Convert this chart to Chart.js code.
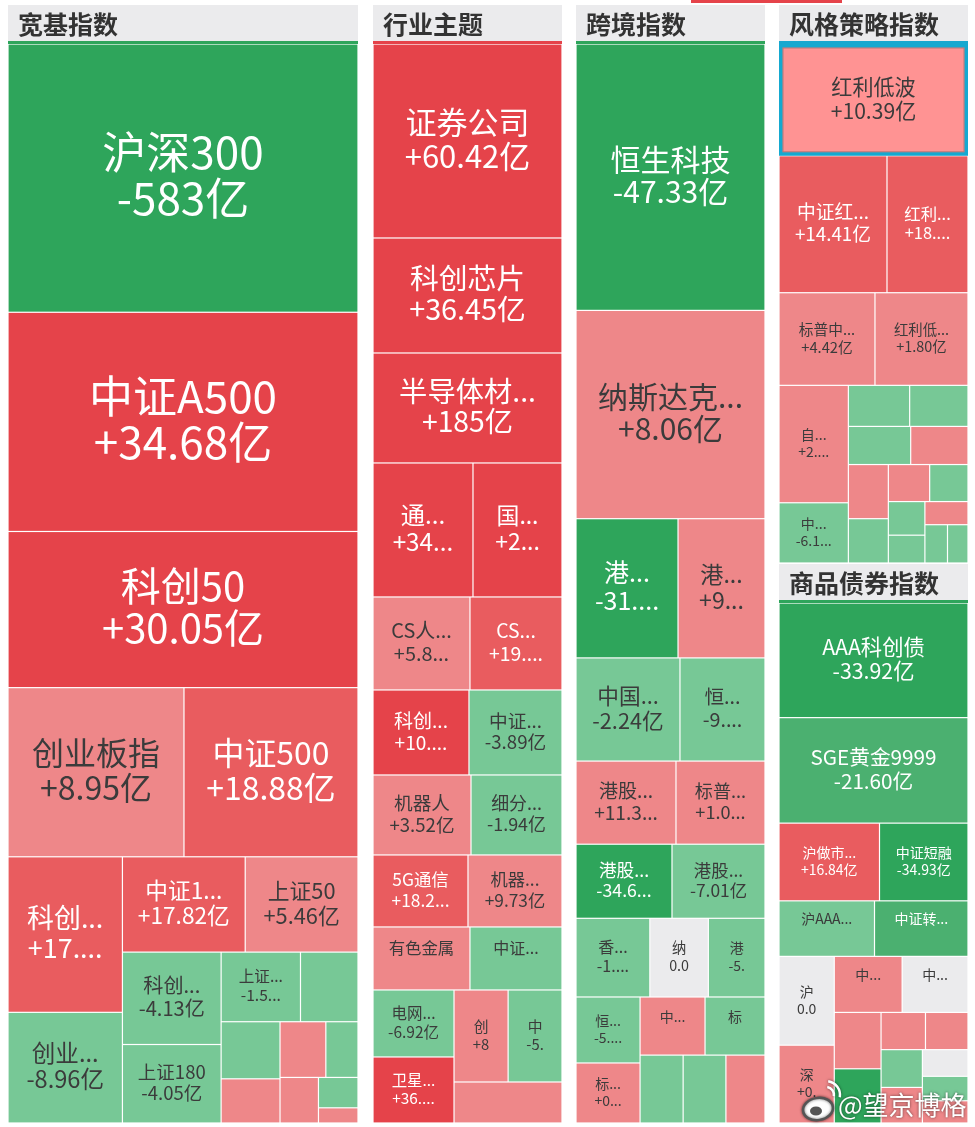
<!DOCTYPE html>
<html>
<head>
<meta charset="utf-8">
<script src="https://cdn.jsdelivr.net/npm/chart.js@4.4.1/dist/chart.umd.min.js"></script>
<style>
  html, body { margin: 0; padding: 0; background: #fff; }
  canvas { display: block; }
</style>
</head>
<body>
<canvas id="flowMap" width="975" height="1127"></canvas>
<script>
// ETF 周度资金净流入 (亿元)，面积 = 规模，颜色 = 净流入占规模比例(%)

const groupTitles = ['宽基指数', '行业主题', '跨境指数', '风格策略指数', '商品债券指数'];

// 宽基指数
const broadNames = ['沪深300', '中证A500', '科创50', '创业板指', '中证500', '科创综指', '创业板50', '中证1000', '上证50', '科创100',
  '上证180', '上证指数', '深证100', '中证800', '中证2000', '科创创业50', '双创50', '深证50', '中证100', '上证科创板200'];
const broadFlows = [-583, 34.68, 30.05, 8.95, 18.88, 17.36, -8.96, 17.82, 5.46, -4.13,
  -4.05, -1.52, -2.36, -0.84, 1.26, 0.95, -0.41, 0.38, -0.27, 0.12];
const broadAum = [9380, 7665, 5460, 2974, 2941, 1778, 1265, 1169, 1074, 911,
  774, 552, 400, 336, 260, 255, 179, 175, 120, 60];
const broadPct = [-5.8, 4.6, 5.2, 1.2, 2.9, 3.1, -1.1, 2.6, 0.9, -0.8,
  -1.0, -0.6, -0.9, -0.5, 0.7, 0.4, -0.3, 0.5, -0.2, 0.3];

// 行业主题
const sectorNames = ['证券公司', '科创芯片', '半导体材料设备', '通信设备', '国防军工', 'CS人工智能', 'CS创新药', '科创半导体', '中证医疗', '机器人',
  '细分化工', '5G通信', '机器人产业', '有色金属', '中证全指证券公司', '电网设备', '卫星通信', '创新药', '中证传媒', '煤炭'];
const sectorFlows = [60.42, 36.45, 185, 34.27, 27.64, 5.83, 19.45, 10.72, -3.89, 3.52,
  -1.94, 18.21, 9.73, 2.85, -2.14, -6.92, 36.18, 8.04, -5.31, 1.47];
const sectorAum = [3667, 2174, 2079, 1340, 1193, 902, 856, 816, 791, 784,
  728, 684, 677, 611, 580, 543, 535, 498, 496, 443];
const sectorPct = [5.5, 4.8, 9.0, 6.0, 5.1, 1.3, 3.3, 5.4, -0.9, 0.8,
  -0.6, 3.6, 1.8, 0.7, -0.5, -1.5, 8.2, 1.2, -1.2, 0.6];

// 跨境指数
const crossNames = ['恒生科技', '纳斯达克100指数', '港股通互联网', '港股通医药', '中国互联网', '恒生医疗', '港股通创新药', '标普500', '港股通科技', '港股通消费',
  '香港证券', '纳指科技', '港股通央企红利', '恒生互联网', '标普消费', '中韩半导体', '标普生物科技', '日经225', '德国DAX', '沙特'];
const crossFlows = [-47.33, 8.06, -31.26, 9.47, -2.24, -9.18, 11.35, 1.06, -34.62, -7.01,
  -1.38, 0, -5.27, -5.66, 0.86, 1.12, -0.73, -0.42, -0.35, 0.51];
const crossAum = [5027, 3931, 1418, 1209, 1071, 876, 830, 739, 710, 688,
  580, 460, 445, 422, 384, 377, 348, 292, 290, 265];
const crossPct = [-4.9, 0.9, -5.2, 1.6, -0.5, -1.9, 1.7, 0.3, -6.1, -1.4,
  -0.4, 0, -1.3, -1.5, 0.5, 0.6, -0.3, -0.2, -0.2, 0.3];

// 风格策略指数
const styleNames = ['红利低波', '中证红利低波', '红利质量', '标普中国A股红利', '红利低波100', '自由现金流', '中证现金流', '红利国企', '央企红利', '国企红利',
  '上证红利', '深证红利', '价值100', '沪深300价值', '创成长', '300成长', '800价值', '质量因子', '低波动', '基本面50'];
const styleFlows = [10.39, 14.41, 18.27, 4.42, 1.80, 2.63, -6.12, -0.86, -0.52, -1.13,
  0.74, 0.61, -0.33, 0.28, -0.19, -0.25, -0.11, 0.15, -0.08, -0.06];
const styleAum = [2098, 1469, 1102, 883, 856, 809, 415, 250, 238, 236,
  217, 215, 176, 152, 141, 122, 101, 99, 86, 78];
const stylePct = [1.6, 2.6, 3.2, 0.9, 0.4, 0.6, -1.7, -0.3, -0.2, -0.4,
  0.3, 0.2, -0.1, 0.1, -0.1, -0.1, -0.05, 0.05, -0.03, -0.02];

// 商品债券指数
const bondNames = ['AAA科创债', 'SGE黄金9999', '沪做市公司债', '中证短融', '沪AAA城投债', '中证转债及可交换债', '沪公司债', '深城投债', '中债国开', '中证同业存单',
  '中短融', '国债ETF', '十年国债', '政金债', '地方债', '城投债', '公司债', '30年国债', '短融'];
const bondFlows = [-33.92, -21.60, 16.84, -34.93, -3.26, -12.47, 0, 0.46, 1.25, 0,
  0.88, -8.9, 0.53, 0.41, -0.35, 0.3, 0, -0.28, 0.2];
const bondAum = [2136, 1966, 770, 678, 523, 512, 484, 424, 375, 364,
  260, 250, 163, 156, 154, 145, 120, 110, 100];
const bondPct = [-4.5, -2.8, 3.0, -6.3, -0.9, -2.5, 0, 0.2, 0.6, 0,
  0.5, -4.2, 0.3, 0.3, -0.2, 0.2, 0, -0.1, 0.1];

const selectedName = '红利低波';

// ---- layout / style ----
const FONT = "'Noto Sans CJK SC', 'Microsoft YaHei', sans-serif";
const COLS = [[8, 350], [373, 189], [576, 189], [779, 189]];
const HEAD = 36, LINE = 3;
const SQUARE_RATIO = 0.86;

const panels = [
  { col: 0, top: 5, bottom: 1123, line: '#2ea55b', scale: 1, cap: 44, names: broadNames, flows: broadFlows, aum: broadAum, pct: broadPct },
  { col: 1, top: 5, bottom: 1123, line: '#e5434a', scale: 1, cap: 31, names: sectorNames, flows: sectorFlows, aum: sectorAum, pct: sectorPct },
  { col: 2, top: 5, bottom: 1123, line: '#2ea55b', scale: 1, cap: 30, names: crossNames, flows: crossFlows, aum: crossAum, pct: crossPct },
  { col: 3, top: 5, bottom: 563, line: '#17a8cf', scale: 0.74, cap: 31, names: styleNames, flows: styleFlows, aum: styleAum, pct: stylePct },
  { col: 3, top: 564, bottom: 1123, line: '#2ea55b', scale: 0.74, cap: 31, names: bondNames, flows: bondFlows, aum: bondAum, pct: bondPct }
];
panels.forEach((p, i) => { p.title = groupTitles[i]; });

function cellColor(p) {
  const a = Math.abs(p);
  if (a < 0.005) return '#ebebed';
  if (p > 0) return a >= 4 ? '#e5434a' : a >= 2 ? '#e95c5f' : '#ee8789';
  return a >= 4 ? '#2ea55b' : a >= 2 ? '#4bb070' : '#77c896';
}

function fmtFlow(v) {
  const a = Math.abs(v);
  if (a < 0.005) return '0.0';
  return (v > 0 ? '+' : '-') + (a >= 100 ? Math.round(a) : a.toFixed(2)) + '亿';
}

// cut text to width, "..." when something is dropped (plain cut in narrow cells)
function fitText(ctx, text, maxW, slack) {
  if (ctx.measureText(text).width <= maxW) return text;
  if (maxW >= 30) {
    for (let n = text.length - 1; n > 0; n--) {
      const t = text.slice(0, n) + '...';
      if (ctx.measureText(t).width + slack <= maxW) return t;
    }
  }
  for (let n = text.length - 1; n > 0; n--) {
    const t = text.slice(0, n);
    if (ctx.measureText(t).width <= maxW - 5) return t;
  }
  return '';
}

function worst(items, a, b, L, ratio) {
  let sum = 0, mx = 0, mn = Infinity;
  for (let j = a; j < b; j++) {
    const v = items[j].area;
    sum += v; mx = Math.max(mx, v); mn = Math.min(mn, v);
  }
  const f = L * L * ratio;
  return Math.max(f * mx / (sum * sum), sum * sum / (f * mn));
}

// squarified treemap in data units
function squarify(values, rect, ratio) {
  const total = values.reduce((a, b) => a + b, 0);
  const k = rect.w * rect.h / total;
  const items = values.map((v, i) => ({ i, area: v * k })).sort((a, b) => b.area - a.area);
  const out = new Array(values.length);
  const r = { ...rect };
  let start = 0;
  while (start < items.length) {
    const L = Math.min(r.w, r.h);
    let end = start + 1;
    let best = worst(items, start, end, L, ratio);
    while (end < items.length) {
      const s = worst(items, start, end + 1, L, ratio);
      if (s > best) break;
      best = s; end++;
    }
    const row = items.slice(start, end);
    const t = row.reduce((a, c) => a + c.area, 0) / L;
    if (L === r.w) {
      let x = r.x;
      row.forEach(c => { const cw = c.area / t; out[c.i] = { x0: x, x1: x + cw, y0: r.y, y1: r.y + t }; x += cw; });
      r.y += t; r.h -= t;
    } else {
      let y = r.y;
      row.forEach(c => { const ch = c.area / t; out[c.i] = { x0: r.x, x1: r.x + t, y0: y, y1: y + ch }; y += ch; });
      r.x += t; r.w -= t;
    }
    start = end;
  }
  return out;
}

function layoutPanel(p) {
  const [x, w] = COLS[p.col];
  const rect = { x, y: p.top + HEAD + LINE, w, h: p.bottom - (p.top + HEAD + LINE) };
  const boxes = squarify(p.aum, rect, SQUARE_RATIO);
  return boxes.map((b, i) => ({ ...b, name: p.names[i], flow: p.flows[i], pct: p.pct[i] }));
}

// ---- custom treemap element / controller ----
class TreemapCell extends Chart.Element {
  static id = 'treemapCell';
  static defaults = {};

  draw(ctx) {
    const { x, y, width: w, height: h, item, fontScale, fontCap, panelArea } = this;
    const sel = item.name === selectedName;
    ctx.save();
    ctx.fillStyle = sel ? '#ff9393' : cellColor(item.pct);
    ctx.fillRect(x + 0.6, y + 0.6, w - 1.2, h - 1.2);
    if (sel) {
      ctx.strokeStyle = '#15a9d0';
      ctx.lineWidth = 3.5;
      ctx.strokeRect(x + 1.75, y + 1.75, w - 3.5, h - 3.5);
      ctx.strokeStyle = 'rgba(90,90,90,0.45)';
      ctx.lineWidth = 1;
      ctx.strokeRect(x + 4, y + 4, w - 8, h - 8);
    }
    const s = Math.sqrt(w * h);
    let f = s < 120 ? 0.21 * s : 25.2 + 0.13 * (s - 120);
    f = Math.max(14, Math.min(fontCap, f * fontScale));
    const lh = 0.95 * f + 4;
    if (w >= 44 && h >= lh + 25 && w * h >= 0.012 * panelArea) {
      const strong = Math.abs(item.pct) >= 2;
      ctx.font = `${f.toFixed(1)}px ${FONT}`;
      ctx.fillStyle = (strong && !sel) ? '#ffffff' : '#3b3b3b';
      ctx.textAlign = 'center';
      ctx.textBaseline = 'middle';
      const cx = x + w / 2;
      const cy = y + h / 2 - 0.06 * f;
      const avail = w - 30;
      const slack = 0.3 * f - 1;
      ctx.fillText(fitText(ctx, item.name, avail, slack), cx, cy - lh / 2);
      if (h >= 2 * lh + 25) ctx.fillText(fitText(ctx, fmtFlow(item.flow), avail, slack), cx, cy + lh / 2);
    }
    ctx.restore();
  }
}

class TreemapController extends Chart.DatasetController {
  static id = 'treemap';
  static defaults = { dataElementType: 'treemapCell', datasetElementType: false };

  parse(start, count) {
    const data = this.getDataset().data;
    const parsed = this._cachedMeta._parsed;
    for (let i = start; i < start + count; i++) parsed[i] = data[i];
  }

  update(mode) {
    const meta = this._cachedMeta;
    this.updateElements(meta.data, 0, meta.data.length, mode);
  }

  updateElements(cells, start, count) {
    const { xScale, yScale } = this._cachedMeta;
    const ds = this.getDataset();
    const p = ds.panel;
    const [px, pw] = COLS[p.col];
    const panelArea = Math.abs(xScale.getPixelForValue(px + pw) - xScale.getPixelForValue(px)) *
      Math.abs(yScale.getPixelForValue(p.bottom) - yScale.getPixelForValue(p.top + HEAD + LINE));
    for (let i = start; i < start + count; i++) {
      const d = ds.data[i];
      const left = xScale.getPixelForValue(d.x0), right = xScale.getPixelForValue(d.x1);
      const top = yScale.getPixelForValue(d.y0), bottom = yScale.getPixelForValue(d.y1);
      Object.assign(cells[i], {
        x: Math.min(left, right), y: Math.min(top, bottom),
        width: Math.abs(right - left), height: Math.abs(bottom - top),
        item: d, fontScale: p.scale, fontCap: p.cap, panelArea
      });
    }
  }

  draw() {
    const ctx = this.chart.ctx;
    this._cachedMeta.data.forEach(el => el.draw(ctx));
  }
}

Chart.register(TreemapController, TreemapCell);

const panelHeaders = {
  id: 'panelHeaders',
  beforeDatasetsDraw(chart) {
    const { ctx, scales: { x: xs, y: ys } } = chart;
    ctx.save();
    // stray tab underline at the top edge
    ctx.fillStyle = '#e5434a';
    ctx.fillRect(xs.getPixelForValue(691), ys.getPixelForValue(0), xs.getPixelForValue(842) - xs.getPixelForValue(691), 3);
    chart.data.datasets.forEach(ds => {
      const p = ds.panel;
      const [x, w] = COLS[p.col];
      const left = xs.getPixelForValue(x), right = xs.getPixelForValue(x + w);
      const top = ys.getPixelForValue(p.top), lineTop = ys.getPixelForValue(p.top + HEAD);
      const lineBottom = ys.getPixelForValue(p.top + HEAD + LINE);
      ctx.fillStyle = '#ebebed';
      ctx.fillRect(left, top, right - left, lineTop - top);
      ctx.fillStyle = p.line;
      ctx.fillRect(left, lineTop, right - left, lineBottom - lineTop);
      ctx.fillStyle = '#333333';
      ctx.font = `bold 25px ${FONT}`;
      ctx.textAlign = 'left';
      ctx.textBaseline = 'middle';
      ctx.fillText(ds.label, left + 10, (top + lineTop) / 2 + 1);
    });
    ctx.restore();
  }
};

const watermark = {
  id: 'watermark',
  afterDatasetsDraw(chart) {
    const ctx = chart.ctx;
    ctx.save();
    ctx.shadowColor = 'rgba(0,0,0,0.6)';
    ctx.shadowBlur = 3;
    // weibo-like logo
    ctx.fillStyle = '#ffffff';
    ctx.strokeStyle = '#555';
    ctx.lineWidth = 2.5;
    ctx.beginPath();
    ctx.ellipse(818, 1109, 15, 11, -0.15, 0, Math.PI * 2);
    ctx.fill();
    ctx.stroke();
    ctx.shadowBlur = 0;
    ctx.fillStyle = '#555';
    ctx.beginPath();
    ctx.ellipse(816, 1111, 6, 4.5, 0, 0, Math.PI * 2);
    ctx.fill();
    ctx.strokeStyle = '#fff';
    ctx.lineWidth = 2.5;
    ctx.shadowBlur = 3;
    ctx.beginPath();
    ctx.arc(826, 1095, 8, -Math.PI * 0.45, Math.PI * 0.05);
    ctx.stroke();
    ctx.beginPath();
    ctx.arc(826, 1095, 14, -Math.PI * 0.45, Math.PI * 0.05);
    ctx.stroke();
    ctx.font = `26px ${FONT}`;
    ctx.fillStyle = '#ffffff';
    ctx.textAlign = 'left';
    ctx.textBaseline = 'middle';
    ctx.fillText('@望京博格', 838, 1105);
    ctx.restore();
  }
};

const ctx = document.getElementById('flowMap');
const myChart = new Chart(ctx, {
  type: 'treemap',
  data: {
    datasets: panels.map(p => ({ label: p.title, data: layoutPanel(p), panel: p }))
  },
  options: {
    responsive: false,
    animation: false,
    events: [],
    layout: { padding: 0 },
    plugins: { legend: { display: false }, tooltip: { enabled: false } },
    scales: {
      x: { type: 'linear', min: 0, max: 975, display: false },
      y: { type: 'linear', min: 0, max: 1127, reverse: true, display: false }
    }
  },
  plugins: [panelHeaders, watermark]
});
</script>
</body>
</html>
